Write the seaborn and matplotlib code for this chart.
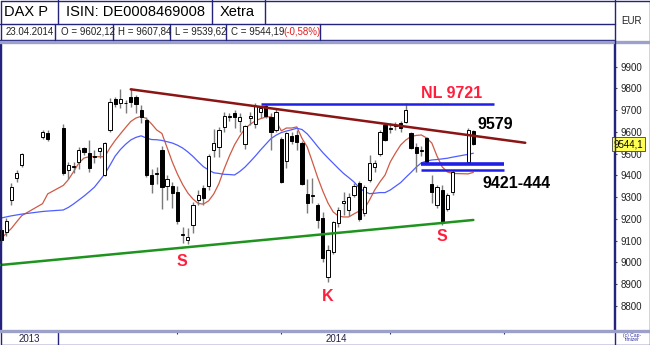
import numpy as np
import pandas as pd
import matplotlib
matplotlib.use("Agg")
import matplotlib.pyplot as plt
import seaborn as sns

# ---------------- data ----------------
dates = ["2013-12-17", "2013-12-18", "2013-12-19", "2013-12-20", "2013-12-23", "2013-12-27", "2013-12-30",
         "2014-01-02", "2014-01-03", "2014-01-06", "2014-01-07", "2014-01-08", "2014-01-09", "2014-01-10",
         "2014-01-13", "2014-01-14", "2014-01-15", "2014-01-16", "2014-01-17", "2014-01-20", "2014-01-21",
         "2014-01-22", "2014-01-23", "2014-01-24", "2014-01-27", "2014-01-28", "2014-01-29", "2014-01-30",
         "2014-01-31", "2014-02-03", "2014-02-04", "2014-02-05", "2014-02-06", "2014-02-07", "2014-02-10",
         "2014-02-11", "2014-02-12", "2014-02-13", "2014-02-14", "2014-02-17", "2014-02-18", "2014-02-19",
         "2014-02-20", "2014-02-21", "2014-02-24", "2014-02-25", "2014-02-26", "2014-02-27", "2014-02-28",
         "2014-03-03", "2014-03-04", "2014-03-05", "2014-03-06", "2014-03-07", "2014-03-10", "2014-03-11",
         "2014-03-12", "2014-03-13", "2014-03-14", "2014-03-17", "2014-03-18", "2014-03-19", "2014-03-20",
         "2014-03-21", "2014-03-24", "2014-03-25", "2014-03-26", "2014-03-27", "2014-03-28", "2014-03-31",
         "2014-04-01", "2014-04-02", "2014-04-03", "2014-04-04", "2014-04-07", "2014-04-08", "2014-04-09",
         "2014-04-10", "2014-04-11", "2014-04-14", "2014-04-15", "2014-04-16", "2014-04-17", "2014-04-22",
         "2014-04-23"]

opens = [9149, 9141, 9287, 9387, 9448, 9575, 9597,
         9617, 9425, 9440, 9460, 9525, 9502, 9484,
         9510, 9402, 9609, 9750, 9732, 9735, 9762,
         9759, 9701, 9655, 9400, 9405, 9517, 9350,
         9350, 9325, 9128, 9105, 9172, 9285, 9341,
         9352, 9517, 9532, 9624, 9668, 9686, 9652,
         9545, 9662, 9635, 9690, 9720, 9670, 9609,
         9566, 9468, 9580, 9586, 9551, 9315, 9305,
         9264, 9205, 8932, 9049, 9180, 9274, 9240,
         9310, 9364, 9226, 9379, 9440, 9498, 9634,
         9612, 9628, 9640, 9647, 9594, 9532, 9510,
         9570, 9359, 9264, 9333, 9245, 9325, 9463,
         9602.12]
highs = [9160, 9203, 9364, 9425, 9502, 9609, 9608,
         9635, 9463, 9463, 9532, 9530, 9563, 9517,
         9530, 9552, 9755, 9762, 9796, 9747, 9800,
         9770, 9724, 9670, 9430, 9440, 9535, 9402,
         9368, 9350, 9164, 9158, 9279, 9333, 9356,
         9497, 9612, 9624, 9693, 9686, 9701, 9686,
         9632, 9690, 9735, 9718, 9730, 9686, 9705,
         9575, 9601, 9600, 9610, 9560, 9385, 9388,
         9272, 9233, 9080, 9190, 9255, 9325, 9320,
         9365, 9375, 9355, 9494, 9470, 9610, 9640,
         9640, 9645, 9648, 9732, 9600, 9548, 9535,
         9575, 9402, 9355, 9356, 9320, 9425, 9617,
         9607.84]
lows = [9090, 9123, 9264, 9371, 9440, 9568, 9560,
        9402, 9385, 9410, 9430, 9495, 9415, 9456,
        9481, 9398, 9601, 9716, 9712, 9686, 9716,
        9686, 9640, 9394, 9320, 9360, 9245, 9285,
        9250, 9175, 9088, 9085, 9134, 9264, 9266,
        9333, 9486, 9486, 9601, 9650, 9617, 9601,
        9520, 9630, 9620, 9665, 9665, 9517, 9600,
        9365, 9433, 9545, 9517, 9355, 9226, 9272,
        9158, 9002, 8912, 9040, 9165, 9220, 9215,
        9300, 9190, 9215, 9368, 9417, 9490, 9560,
        9595, 9610, 9600, 9640, 9520, 9417, 9490,
        9455, 9272, 9250, 9172, 9235, 9310, 9456,
        9539.62]
closes = [9103, 9190, 9348, 9410, 9497, 9600, 9566,
          9410, 9446, 9444, 9517, 9507, 9433, 9488,
          9524, 9548, 9739, 9728, 9750, 9731, 9739,
          9728, 9670, 9402, 9360, 9410, 9348, 9384,
          9318, 9190, 9132, 9117, 9264, 9312, 9295,
          9489, 9550, 9608, 9672, 9672, 9670, 9670,
          9627, 9673, 9720, 9710, 9675, 9601, 9693,
          9370, 9597, 9560, 9555, 9361, 9275, 9310,
          9195, 9019, 9057, 9187, 9240, 9283, 9300,
          9352, 9200, 9345, 9458, 9456, 9598, 9563,
          9620, 9632, 9618, 9701, 9525, 9502, 9516,
          9463, 9325, 9348, 9180, 9310, 9417, 9609,
          9544.19]
ma_fast = [9108, 9133, 9156, 9186, 9215, 9270, 9315,
           9354, 9381, 9418, 9457, 9480, 9486, 9486,
           9486, 9486, 9527, 9561, 9591, 9620, 9648,
           9664, 9672, 9662, 9637, 9609, 9593, 9528,
           9462, 9406, 9358, 9319, 9291, 9271, 9268,
           9283, 9315, 9363, 9430, 9489, 9541, 9581,
           9615, 9635, 9651, 9661, 9668, 9670, 9650,
           9605, 9618, 9618, 9623, 9570, 9531, 9462,
           9391, 9328, 9273, 9232, 9213, 9209, 9209,
           9223, 9236, 9246, 9287, 9333, 9370, 9402,
           9462, 9503, 9540, 9563, 9579, 9584, 9586,
           9572, 9549, 9489, 9439, 9416, 9409, 9407,
           9414]
ma_slow = [9204, 9209, 9214, 9218, 9222, 9234, 9236,
           9241, 9253, 9269, 9287, 9305, 9325, 9346,
           9376, 9407, 9447, 9489, 9519, 9543, 9563,
           9575, 9582, 9572, 9565, 9564, 9561, 9555,
           9549, 9539, 9526, 9508, 9487, 9463, 9440,
           9425, 9412, 9409, 9405, 9404, 9402, 9418,
           9438, 9463, 9489, 9517, 9543, 9569, 9585,
           9597, 9604, 9610, 9617, 9611, 9591, 9563,
           9533, 9505, 9480, 9456, 9432, 9409, 9390,
           9370, 9344, 9326, 9316, 9318, 9321, 9321,
           9333, 9350, 9367, 9391, 9414, 9438, 9458,
           9466, 9471, 9473, 9476, 9479, 9484, 9497,
           9502]

resist_dates = ["2014-01-21", "2014-05-07"]
resist_vals = [9796, 9550]
neckline_dates = ["2014-02-25", "2014-04-29"]
neckline_val = 9728
zone_dates = ["2014-04-09", "2014-05-01"]
zone_vals = [9452, 9424]
support_dates = ["2013-12-16", "2014-04-23"]
support_vals = [8986, 9195]
month_starts = ["2014-02-03", "2014-03-03", "2014-04-01", "2014-05-01"]
year_break = "2014-01-01"
y_ticks = list(range(8800, 10000, 100))
last_close = 9544.19
last_tag = "9544,1"

# ---------------- figure ----------------
sns.set_style("white")
plt.rcParams['font.family'] = ['Liberation Sans', 'DejaVu Sans']
NARROW = ['Liberation Sans Narrow', 'Liberation Sans', 'DejaVu Sans']

W, H = 650, 345
fig = plt.figure(figsize=(6.5, 3.45), dpi=100)
fig.patch.set_facecolor('white')

PL, PR, PT, PB = 0, 614, 42, 330
ax = fig.add_axes([PL / W, (H - PB) / H, (PR - PL) / W, (PB - PT) / H])
axx = fig.add_axes([PL / W, 0, (PR - PL) / W, (H - PB) / H], sharex=ax)

origin = np.datetime64(dates[0], 'D')
def pos(ds):
    return np.busday_count(origin, np.array(ds, dtype='datetime64[D]'))

df = pd.DataFrame(dict(date=dates, open=opens, high=highs, low=lows, close=closes,
                       fast=ma_fast, slow=ma_slow))
df['pos'] = pos(dates)
up = df['close'] >= df['open']

navy = '#23237e'

# candles
ax.vlines(df['pos'], df['low'], df['high'], color='#7a7a7a', lw=1.0, zorder=3)
body = (df['close'] - df['open']).abs().clip(lower=2.5)
ax.bar(df['pos'], body, bottom=np.minimum(df['open'], df['close']), width=0.62,
       color=np.where(up, 'white', 'black'), edgecolor='black', linewidth=0.7, zorder=4)

# moving averages
sns.lineplot(x=df['pos'], y=df['fast'], ax=ax, color='#cf5a45', lw=0.9, zorder=2)
sns.lineplot(x=df['pos'], y=df['slow'], ax=ax, color='#4f5dff', lw=0.9, zorder=2)

# trend lines
sns.lineplot(x=pos(resist_dates), y=resist_vals, ax=ax, color='#8b1414', lw=1.8, zorder=5)
sns.lineplot(x=pos(support_dates), y=support_vals, ax=ax, color='#1e941e', lw=1.8, zorder=5)
ax.hlines(neckline_val, *pos(neckline_dates), color='#1f1fe6', lw=1.8, zorder=5)
zx = pos(zone_dates)
ax.hlines(zone_vals[0], zx[0], zx[1], color='#1f1fe6', lw=2.6, zorder=5)
ax.hlines(zone_vals[1], zx[0], zx[1], color='#1f1fe6', lw=1.8, zorder=5)

# annotations
red = '#ff1f3d'
lab = dict(fontweight='bold', fontsize=11.5, ha='center', va='center', zorder=6)
ax.text(86.8, 9778, 'NL 9721', color=red, **lab)
ax.text(95.2, 9636, '9579', color='black', **lab)
ax.text(99.4, 9365, '9421-444', color='black', **lab)
ax.text(34.9, 9002, 'S', color=red, **lab)
ax.text(63.0, 8841, 'K', color=red, **lab)
ax.text(85.0, 9121, 'S', color=red, **lab)

ax.set_xlim(-0.19, 118.1)
ax.set_ylim(8689, 10013.6)
ax.set_xlabel('')
ax.set_ylabel('')
ax.set_xticks([])
ax.yaxis.tick_right()
ax.set_yticks(y_ticks)
ax.set_yticklabels([str(v) for v in y_ticks], fontsize=7, color='#222222', family=NARROW)
ax.tick_params(axis='y', which='both', right=True, left=False, direction='out', length=2.5,
               width=0.8, color='#444444', pad=2)
for s in ['top', 'bottom']:
    ax.spines[s].set_visible(False)
for s in ['left', 'right']:
    ax.spines[s].set_color(navy)
    ax.spines[s].set_linewidth(1.0)

# current price tag
ax.text(1.0, last_close, last_tag, transform=ax.get_yaxis_transform(),
        ha='left', va='center', fontsize=7, family=NARROW, color='black', zorder=10, clip_on=False,
        bbox=dict(boxstyle='square,pad=0.18', fc='#ffff55', ec='#555555', lw=0.7))

# x strip
axx.set_ylim(0, 1)
axx.set_yticks([])
mpos = pos(month_starts)
axx.set_xticks(mpos)
axx.set_xticklabels([])
axx.tick_params(axis='x', which='both', top=True, bottom=False, direction='in', length=3,
                width=0.8, color=navy)
for s in ['top', 'bottom', 'left', 'right']:
    axx.spines[s].set_visible(False)
yb = pos([year_break])[0]
axx.axvline(yb, color=navy, lw=1.0)
axx.text((-0.19 + yb) / 2, 0.38, '2013', ha='center', va='center', fontsize=7, family=NARROW, color='#222244')
axx.text((yb + 118.1) / 2, 0.38, '2014', ha='center', va='center', fontsize=7, family=NARROW, color='#222244')

# overlay for header / frame
ov = fig.add_axes([0, 0, 1, 1], zorder=20)
ov.set_xlim(0, W)
ov.set_ylim(H, 0)
ov.axis('off')
ov.patch.set_alpha(0)
ov.plot([0.5, 649.5, 649.5, 0.5, 0.5], [0.5, 0.5, 344.5, 344.5, 0.5], color=navy, lw=1.0)
ov.plot([0, 615], [24, 24], color=navy, lw=1.0)
ov.plot([0, 615], [39.5, 39.5], color=navy, lw=1.0)
ov.plot([0, 650], [41.8, 41.8], color='#9da0c8', lw=2.4)
for xs in [58, 212, 265]:
    ov.plot([xs, xs], [0, 24], color=navy, lw=1.0)
for xs in [55, 113, 170, 226, 320]:
    ov.plot([xs, xs], [24, 39.5], color=navy, lw=1.0)
ov.plot([614.5, 614.5], [0, 345], color=navy, lw=1.0)
ov.plot([0, 650], [330.5, 330.5], color='#9da0c8', lw=2.4)

ov.text(4, 12.5, 'DAX P', fontsize=10.5, ha='left', va='center', color='black')
ov.text(66, 12.5, 'ISIN: DE0008469008', fontsize=10.5, ha='left', va='center', color='black')
ov.text(220, 12.5, 'Xetra', fontsize=10.5, ha='left', va='center', color='black')
hdr = dict(fontsize=7, ha='left', va='center', family=NARROW, color='#222222')
ov.text(6, 32, '23.04.2014', **hdr)
ov.text(61, 32, 'O = 9602,12', **hdr)
ov.text(118, 32, 'H = 9607,84', **hdr)
ov.text(175, 32, 'L = 9539,62', **hdr)
ov.text(231, 32, 'C = 9544,19', **hdr)
ov.text(283, 32, '(-0,58%)', fontsize=7, ha='left', va='center', family=NARROW, color='#e02020')
ov.text(632, 21.5, 'EUR', fontsize=7, ha='center', va='center', family=NARROW, color='#222222')
ov.text(632, 337.5, '(c) Cap-\ntimizer', fontsize=3.6, ha='center', va='center', color='#3333aa',
        linespacing=0.9)

fig.savefig('out.png', dpi=100)
